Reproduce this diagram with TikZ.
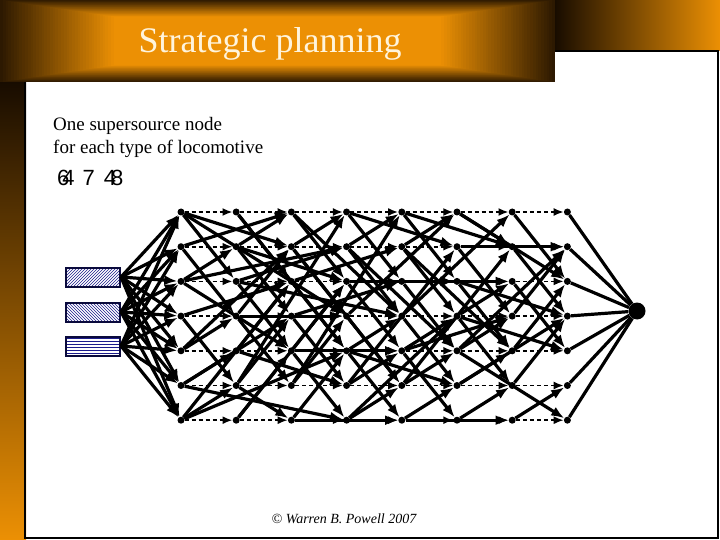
\documentclass[tikz,border=0pt]{standalone}
\usepackage{fontspec}
\setmainfont{Liberation Serif}
\newfontfamily\digitfont{Liberation Sans}
\usetikzlibrary{arrows.meta,patterns}

\definecolor{bandorange}{RGB}{236,144,4}
\definecolor{banddark}{RGB}{24,12,0}
\definecolor{titlecream}{RGB}{255,244,220}
\definecolor{boxnavy}{RGB}{10,10,60}
\definecolor{boxblue}{RGB}{28,28,140}

\tikzset{
  dot/.style={circle, fill=black, inner sep=0pt, minimum size=7pt},
  sinkdot/.style={circle, fill=black, inner sep=0pt, minimum size=17pt},
  loco/.style={rectangle, draw=boxnavy, line width=2pt, fill=white, minimum width=54pt, minimum height=19pt, inner sep=0pt},
  supply/.style={line width=3.2pt, -{Latex[length=13pt,width=10pt]}},
  move/.style={line width=3.2pt, -{Latex[length=13pt,width=10pt]}},
  hold/.style={line width=1.8pt, dash pattern=on 4pt off 3pt, -{Latex[length=10pt,width=8pt]}},
  tosink/.style={line width=3.2pt}
}

\begin{document}
\begin{tikzpicture}[x=1pt, y=-1pt]
  \useasboundingbox (0,0) rectangle (720,540);
  % slide background
  \fill[white] (0,0) rectangle (720,540);
  \shade[top color=banddark, bottom color=bandorange] (0,82) rectangle (26,540);
  \shade[left color=banddark, right color=bandorange] (555,0) rectangle (720,51);
  \foreach \i in {0,...,100} {
    \pgfmathsetmacro\fr{\i/100}
    \pgfmathsetmacro\pc{min(100,10+220*\fr)}
    \fill[bandorange!\pc!banddark] ({277.5*\fr},{41*\fr}) rectangle ({555-277.5*\fr},{82-41*\fr});
  }
  \draw[line width=1.5pt, black] (25,82) -- (25,538) -- (718,538) -- (718,51) -- (555,51);

  \node[font=\fontsize{36}{40}\selectfont, text=titlecream] (title) at (270,44) {Strategic planning};
  \node[anchor=base west, align=left, inner sep=0pt, font=\fontsize{19}{23}\selectfont] (note) at (53,154)
    {One supersource node\\for each type of locomotive};
  \node[anchor=base west, inner sep=0pt, font=\digitfont\fontsize{22}{24}\selectfont] (garble) at (57,186)
    {6\kern-7pt4\kern8pt7\kern9pt4\kern-5pt8};
  \node[font=\fontsize{14}{16}\selectfont\itshape] (credit) at (344,519) {© Warren B. Powell 2007};

  % supersource nodes
  \node[loco, pattern=north east lines, pattern color=boxblue] (loco1) at (93,277) {};
  \node[loco, pattern=north west lines, pattern color=boxblue] (loco2) at (93,312) {};
  \node[loco, pattern=horizontal lines, pattern color=boxblue] (loco3) at (93,346) {};

  % time-space grid
  \foreach \c in {1,...,8}
    \foreach \r in {1,...,7}
      \node[dot] (n\c-\r) at ({181+55.2*(\c-1)},{212+34.7*(\r-1)}) {};
  \node[sinkdot] (sink) at (637,311) {};

  % holding arcs
  \foreach \r in {1,...,7}
    \foreach \c [count=\k from 2] in {1,...,7}
      \draw[hold] (n\c-\r) -- (n\k-\r);

  % supplies
  \foreach \s in {1,2,3}
    \foreach \r in {1,...,7}
      \draw[supply] (loco\s.east) -- (n1-\r);

  % moves
  \foreach \a/\b/\c/\e in {
      1/1/2/3, 1/1/3/2, 1/1/4/4, 1/2/3/1, 1/2/2/4, 1/3/2/2, 1/3/3/5, 1/3/4/2,
      1/4/2/6, 1/4/3/3, 1/5/2/4, 1/5/3/2, 1/6/2/5, 1/6/3/4, 1/6/4/7, 1/7/2/6, 1/7/3/3, 1/7/4/5,
      2/1/3/3, 2/1/4/5, 2/2/3/1, 2/2/4/3, 2/2/3/4, 2/3/3/5, 2/3/4/2, 2/3/5/4,
      2/4/3/2, 2/4/3/6, 2/4/4/4, 2/5/3/3, 2/5/4/6, 2/6/3/4, 2/6/4/1, 2/6/3/7, 2/7/3/5, 2/7/4/3,
      3/1/4/3, 3/1/5/4, 3/2/4/1, 3/2/4/4, 3/2/5/6, 3/3/4/5, 3/3/5/2, 3/4/4/6, 3/4/5/3,
      3/5/4/3, 3/5/4/7, 3/5/5/5, 3/6/4/4, 3/6/5/1, 3/7/4/5, 3/7/5/7,
      4/1/5/3, 4/1/6/2, 4/2/5/1, 4/2/5/4, 4/2/6/5, 4/3/5/5, 4/3/6/3, 4/4/5/6, 4/4/6/1,
      4/5/5/4, 4/5/5/7, 4/5/6/6, 4/6/5/5, 4/6/6/2, 4/7/5/6, 4/7/6/4,
      5/1/6/3, 5/1/7/2, 5/2/6/1, 5/2/6/4, 5/2/7/5, 5/3/6/5, 5/3/7/3, 5/4/6/6, 5/4/7/1,
      5/5/6/4, 5/5/7/4, 5/5/6/7, 5/6/6/5, 5/6/7/2, 5/7/6/6, 5/7/7/7,
      6/1/7/2, 6/1/8/3, 6/2/7/4, 6/2/8/2, 6/3/7/5, 6/3/8/4, 6/4/7/3, 6/4/8/5, 6/4/7/6,
      6/5/7/4, 6/5/8/2, 6/6/7/5, 6/6/8/4, 6/7/7/6, 6/5/8/7,
      7/1/8/3, 7/2/8/4, 7/3/8/5, 7/4/8/2, 7/5/8/3, 7/6/8/4, 7/7/8/6}
    \draw[move] (n\a-\b) -- (n\c-\e);

  % to the supersink
  \foreach \r in {1,...,7}
    \draw[tosink] (n8-\r) -- (sink);
\end{tikzpicture}
\end{document}
